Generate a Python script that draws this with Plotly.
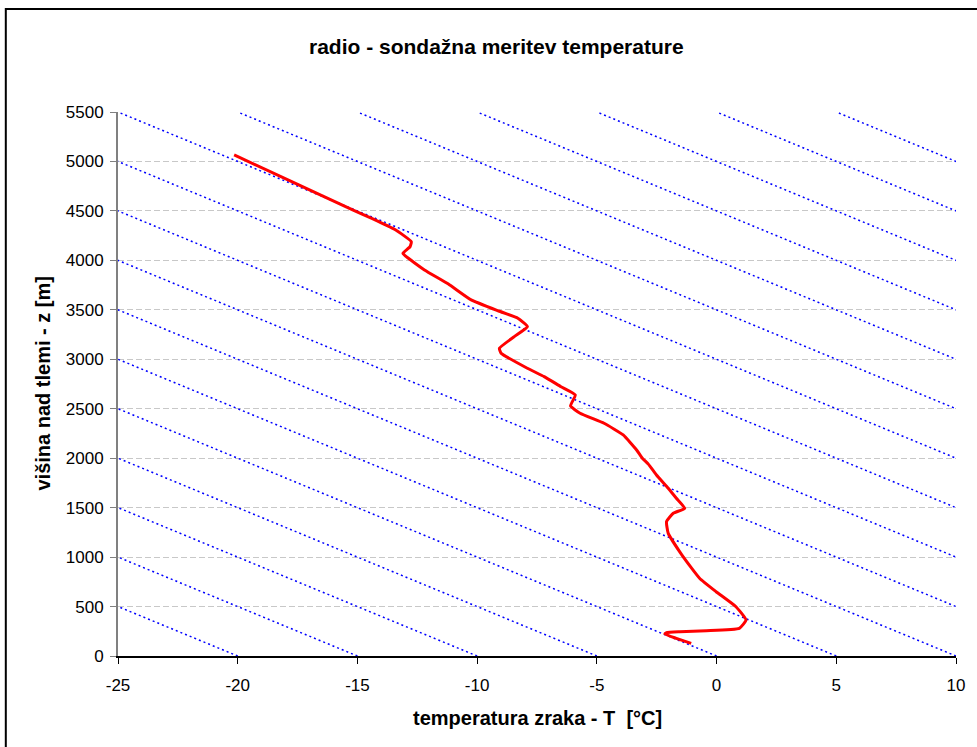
import plotly.graph_objects as go

# measured sounding (temperature °C, height m)
temp_c = [-20.15, -17.7, -15.2, -14.4, -13.4, -12.75, -12.8, -13.1, -13.0, -12.2, -11.2,
          -10.25, -9.1, -8.3, -7.9, -8.45, -9.07, -9.0, -7.9, -7.2, -6.5, -5.9, -6.1, -5.7,
          -4.7, -3.9, -3.34, -3.1, -2.85, -2.51, -2.02, -1.68, -1.33, -1.81, -2.09, -2.02,
          -1.40, -0.71, -0.02, 0.81, 1.23, 0.95, -0.43, -1.54, -2.09, -2.16, -1.68, -1.06]
height_m = [5066, 4790, 4510, 4425, 4307, 4189, 4139, 4072, 4045, 3903, 3760,
            3600, 3488, 3415, 3330, 3229, 3111, 3061, 2909, 2824, 2723, 2639, 2528, 2454,
            2353, 2235, 2083, 2000, 1940, 1830, 1696, 1595, 1493, 1443, 1358, 1241,
            1004, 786, 650, 498, 364, 280, 256, 246, 236, 222, 179, 128]

# dry adiabats: temperature at ground and at top of chart
adiabat_T_ground = [-20, -15, -10, -5, 0, 5, 10, 15, 20, 25, 30, 35, 40, 45, 50, 55, 60, 65]
adiabat_T_top = [-75, -70, -65, -60, -55, -50, -45, -40, -35, -30, -25, -20, -15, -10, -5, 0, 5, 10]
adiabat_z = [0, 5500]

x_ticks = [-25, -20, -15, -10, -5, 0, 5, 10]
y_ticks = list(range(0, 5501, 500))

FONT = "Arial, Liberation Sans, sans-serif"

fig = go.Figure()
for t0, t1 in zip(adiabat_T_ground, adiabat_T_top):
    fig.add_trace(go.Scatter(x=[t0, t1], y=adiabat_z, mode="lines",
                             line=dict(color="#0000FF", width=1.5, dash="2px,3px"),
                             hoverinfo="skip", showlegend=False))
fig.add_trace(go.Scatter(x=temp_c, y=height_m, mode="lines",
                         line=dict(color="#FF0000", width=3, shape="spline", smoothing=0.4),
                         showlegend=False))

W, H = 977, 747
L, R, T, B = 118, 15, 112, 91
pw, ph = W - L - R, H - T - B

def px(x):
    return (x - L) / pw

def py(y):
    return (H - B - y) / ph

fig.update_layout(
    width=W, height=H,
    margin=dict(l=L, r=R, t=T, b=B),
    paper_bgcolor="white", plot_bgcolor="white",
    font=dict(family=FONT, size=17, color="black"),
    xaxis=dict(range=[-25, 10], tickvals=x_ticks, ticktext=[str(v) for v in x_ticks],
               ticks="outside", ticklen=6, ticklabelstandoff=7,
               tickcolor="black", showline=True, linecolor="black", linewidth=1.5,
               showgrid=False, zeroline=False, tickfont=dict(size=17)),
    yaxis=dict(range=[0, 5500], tickvals=y_ticks, ticktext=[str(v) for v in y_ticks],
               ticks="outside", ticklen=6, ticklabelstandoff=3,
               tickcolor="#808080", showline=True, linecolor="#808080", linewidth=2,
               showgrid=True, gridcolor="#C8C8C8", griddash="6px,3px", gridwidth=1,
               zeroline=False, tickfont=dict(size=17)),
    hovermode=False,
    annotations=[
        dict(text="<b>radio - sondažna meritev temperature</b>", xref="paper", yref="paper",
             x=px(499), y=py(46), xanchor="center", yanchor="middle", showarrow=False,
             font=dict(size=21)),
        dict(text="<b>temperatura zraka - T\u00a0\u00a0[°C]</b>", xref="paper", yref="paper",
             x=px(540), y=py(718), xanchor="center", yanchor="middle", showarrow=False,
             font=dict(size=20)),
        dict(text="<b>višina nad tlemi - z [m]</b>", xref="paper", yref="paper",
             x=px(42), y=py(384), xanchor="center", yanchor="middle", showarrow=False,
             textangle=-90, font=dict(size=20)),
    ],
    shapes=[dict(type="rect", xref="paper", yref="paper",
                 x0=px(5), x1=px(990), y0=py(760), y1=py(9),
                 line=dict(color="black", width=2), fillcolor="rgba(0,0,0,0)", layer="above")],
)

fig.write_html("out.html", config=dict(displayModeBar=False))
